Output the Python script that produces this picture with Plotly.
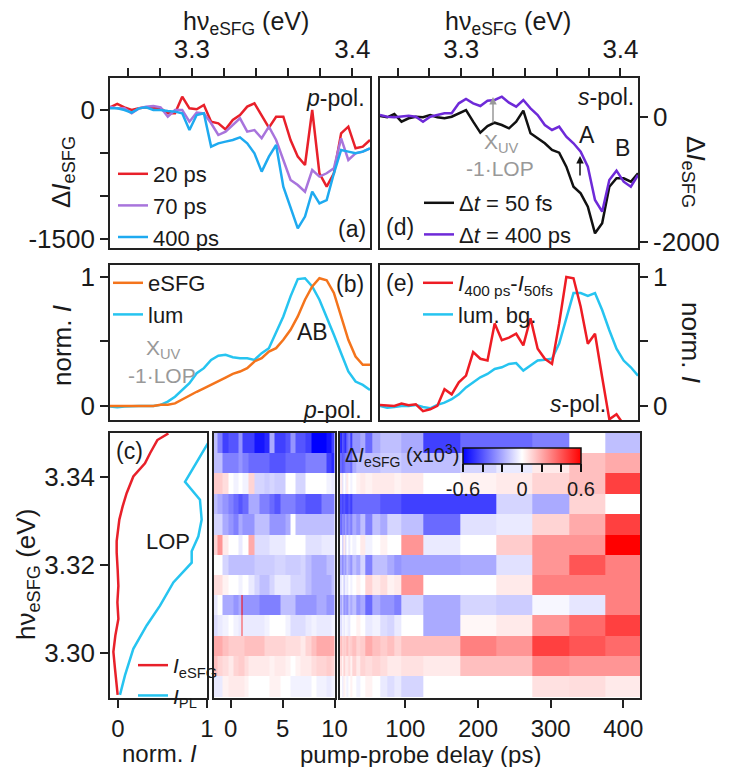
import numpy as np
import plotly.graph_objects as go

W, H = 732, 767
FONT = "Liberation Sans, Arial, sans-serif"

# ---------------- data ----------------
E_GRID = [3.2490, 3.2535, 3.2580, 3.2625, 3.2670, 3.2715, 3.2760, 3.2805, 3.2850, 3.2895,
          3.2940, 3.2985, 3.3030, 3.3075, 3.3120, 3.3165, 3.3210, 3.3255, 3.3300, 3.3345,
          3.3390, 3.3435, 3.3480, 3.3525, 3.3570, 3.3615, 3.3660, 3.3705, 3.3750, 3.3795,
          3.3840, 3.3885, 3.3930, 3.3975, 3.4020, 3.4065, 3.4110]

# (a) p-pol. Delta I_eSFG
A_20PS = [31, 70, 31, 0, 19, 31, 19, 19, -39, -39, 155, 19, 8, 58, -136, -155, -225, -116, -58, 39,
          78, -58, -205, -78, -78, -349, -543, -640, 0, -736, -891, -736, -271, -194, -446, -426, -349]
A_70PS = [39, 19, 19, -39, 19, 39, 47, 31, -78, 0, 0, -136, -31, -39, -155, -291, -252, -174, -97, -252,
          -233, -329, -194, -349, -581, -814, -872, -950, -698, -775, -736, -678, -329, -581, -504, -484, -446]
A_400PS = [19, 19, 0, -31, 19, 31, 0, 0, -12, -19, -39, -233, -58, -39, -426, -388, -368, -349, -318, -388,
           -504, -717, -543, -407, -891, -1124, -1376, -1240, -950, -1085, -1047, -736, -465, -484, -504, -484, -446]

# (b) p-pol. normalised spectra
B_ESFG = [0, 0, 0.005, 0.005, 0, 0, 0, 0.01, 0.01, 0.02, 0.05, 0.085, 0.11, 0.137, 0.163, 0.194, 0.22, 0.249,
          0.267, 0.293, 0.345, 0.37, 0.422, 0.448, 0.513, 0.59, 0.694, 0.824, 0.927, 0.99, 0.975, 0.876, 0.694,
          0.513, 0.383, 0.319, 0.319]
B_LUM = [-0.005, -0.01, -0.005, 0, 0, 0, 0, 0.008, 0.034, 0.072, 0.124, 0.176, 0.254, 0.293, 0.357, 0.389,
         0.396, 0.378, 0.37, 0.37, 0.357, 0.409, 0.448, 0.565, 0.694, 0.85, 0.984, 0.99, 0.927, 0.824, 0.694,
         0.552, 0.409, 0.267, 0.189, 0.163, 0.124]

# (d) s-pol. Delta I_eSFG
D_50FS = [16, -5, 48, -75, -21, 5, -5, 32, -5, -21, 5, 59, 112, -75, -251, -144, -91, -128, -181, -75,
          101, -261, -341, -421, -528, -571, -795, -1115, -1221, -1435, -1861, -1700, -1115, -981, -981, -1035, -901]
D_400PS = [32, 5, -5, 5, 21, 5, -75, 5, 32, 59, 59, 219, 288, 219, 176, 261, 272, 325, 229, 165,
           272, 139, 32, -128, -208, -155, -315, -421, -555, -795, -1328, -1515, -1008, -859, -1035, -1115, -928]

# (e) s-pol. normalised spectra
E_DIFF = [0.008, 0.005, 0, 0.018, 0.005, 0.013, -0.04, -0.026, 0, 0.13, 0.09, 0.183, 0.235, 0.418, 0.366,
          0.352, 0.64, 0.51, 0.53, 0.56, 0.47, 0.68, 0.444, 0.366, 0.326, 0.64, 1.0, 0.99, 0.77, 0.483, 0.56,
          0.222, -0.104, -0.065, -0.144, -0.25, -0.3]
E_LUMBG = [0, -0.013, -0.008, 0, 0, 0.008, -0.008, -0.018, 0.008, 0.026, 0.052, 0.09, 0.144, 0.183, 0.222,
           0.248, 0.287, 0.3, 0.326, 0.332, 0.274, 0.313, 0.352, 0.358, 0.366, 0.483, 0.69, 0.875, 0.875, 0.854,
           0.875, 0.744, 0.587, 0.444, 0.352, 0.3, 0.235]

# (c) vertical spectra
C_E_ESFG = [3.3499, 3.3484, 3.3454, 3.3431, 3.3401, 3.3363, 3.3333, 3.3303, 3.3254, 3.3228, 3.3190, 3.3152,
            3.3115, 3.3077, 3.3039, 3.3002, 3.2964, 3.2926, 3.2904]
C_ESFG = [0.566, 0.442, 0.36, 0.303, 0.172, 0.097, 0.052, 0.015, -0.015, -0.015, -0.004, 0.004, -0.007, 0.004,
          -0.03, -0.052, -0.034, -0.015, -0.004]
C_E_PL = [3.3499, 3.3472, 3.3389, 3.3348, 3.3303, 3.3265, 3.3231, 3.3205, 3.3160, 3.3107, 3.3062, 3.3009,
          3.2949, 3.2904]
C_PL = [1.08, 0.996, 0.753, 0.921, 0.94, 0.903, 0.828, 0.828, 0.622, 0.472, 0.322, 0.172, 0.079, 0.022]

# heat map: rows of photon energy (top -> bottom), values in units of 10 (x10^3 scale /100)
ENERGY_ROWS = [3.3477, 3.3431, 3.3385, 3.3338, 3.3292, 3.3246, 3.3200, 3.3154, 3.3108, 3.3062, 3.3015, 3.2969, 3.2923]
DELAY_EARLY = [-1.5, -1, -0.5, 0, 0.5, 1, 1.1, 1.2, 1.5, 2, 2.5, 3, 3.5, 4, 4.5, 5, 5.5, 6, 6.5, 7, 7.5, 8, 8.5, 9, 9.5, 10]
DELAY_LATE = [10, 12, 14, 16, 18, 20, 22, 25, 30, 35, 40, 50, 60, 70, 80, 90, 100, 150, 200, 250, 300, 350, 400]

EARLY_R01 = [-15, -30, -45, -40, -40, -25, -25, -45, -45, -45, -55, -55, -50, -20, -45, -45, -40, -25, -40, -40, -45, -60, -60, -60, -55, -45]
EARLY_R02 = [-15, -15, -30, -30, -30, -25, -25, -30, -30, -35, -35, -35, -35, -40, -40, -40, -35, -35, -35, -35, -30, -30, -30, -30, -45, -50]
EARLY_R03 = [12, 12, 8, 0, -3, 0, 0, -3, -3, 10, -10, -10, -12, -10, -12, -12, 0, 0, -10, -10, 0, 0, 0, 0, -3, -5]
EARLY_R04 = [-15, -20, -25, -30, -35, -40, -40, -35, -35, -20, -20, -30, -30, -35, -40, -30, -30, -30, -35, -35, -40, -40, -40, -30, -30, -30]
EARLY_R05 = [-10, -10, -20, -25, -30, -20, -20, -25, -25, -25, -15, -15, -15, -25, -25, -25, -20, 0, -15, -15, -15, -15, -15, -15, -15, -15]
EARLY_R06 = [10, 25, 5, 0, 0, -5, -5, 0, 0, 20, -8, -8, -8, -5, -5, -5, 0, 0, 0, 0, -7, -7, -7, -5, -5, -5]
EARLY_R07 = [0, 0, -10, -15, -15, -15, -15, -15, -15, -15, -12, -12, -12, -12, -10, -10, -12, -12, -12, -10, -15, -20, -20, -20, -15, -15]
EARLY_R08 = [8, 8, 3, 0, 0, -3, -3, 0, 0, -5, -10, -15, -15, -10, -5, -5, -5, -10, -10, -10, -15, -20, -20, -20, -20, -15]
EARLY_R09 = [-5, 0, -20, -20, -25, -20, 60, -25, -25, -25, -25, -30, -30, -30, -30, -15, -15, -15, -25, -25, -25, -25, -20, -20, -25, -25]
EARLY_R10 = [-8, -5, -3, 0, -3, -5, 45, -5, -5, -5, -5, -5, -3, 0, 0, 0, -3, -8, -8, -8, -5, -3, -5, -5, -5, -3]
EARLY_R11 = [20, 20, 15, 12, 12, 12, 12, 12, 15, 15, 15, 15, 10, 10, 10, 10, 8, 8, 8, 5, 10, 15, 20, 20, 20, 20]
EARLY_R12 = [15, 10, 8, 5, 10, 12, 12, 12, 8, 5, 5, 5, 5, 3, 5, 5, 3, 0, 3, 5, 5, 8, 10, 10, 12, 10]
EARLY_R13 = [-5, -5, 3, 5, 5, 5, 5, 5, 3, 0, 0, 0, 0, 3, 3, 0, 0, -3, -3, -3, -3, 0, -3, -3, -5, -3]

LATE_R01 = [-45, -50, -35, -45, -50, -35, -30, -45, -25, -25, -20, -35, -20, -15, -15, -15, -20, -45, -35, -35, -30, 0, -15]
LATE_R02 = [-35, -35, -40, -35, -30, -30, -30, -35, -20, -15, -15, -15, -15, -12, -12, -12, -15, -15, -10, -5, 5, 15, 20]
LATE_R03 = [-5, 5, -8, 0, -5, 5, 0, -3, 0, 3, 5, 3, 5, 5, 5, 3, 5, 0, 3, 5, 10, 15, 45]
LATE_R04 = [-45, -40, -45, -40, -45, -45, -40, -45, -35, -35, -35, -35, -35, -40, -40, -40, -45, -45, -45, -10, -20, 10, 0]
LATE_R05 = [-30, -35, -25, -30, -20, -30, -25, -30, -20, -25, -15, -30, -15, -20, -10, -10, -15, -35, -7, -5, 10, 20, 45]
LATE_R06 = [-5, 0, -15, 5, -10, 0, -5, 0, -3, 0, 5, -3, 0, 3, 0, 0, 25, -5, 0, 12, 25, 25, 60]
LATE_R07 = [-25, -20, -30, -20, -25, -15, -20, -25, -15, -20, -10, -30, -15, -15, -20, -25, -22, -22, -20, -7, 25, 40, 30]
LATE_R08 = [-10, -5, 0, -10, 0, -5, 0, -3, 0, 3, 0, 10, 5, 8, 3, 5, 25, 0, 0, 5, 30, 30, 30]
LATE_R09 = [-15, -20, -10, -25, -20, -25, -15, -20, -15, -25, -20, -35, -20, -25, -25, -30, -10, -20, -10, -12, -2, -6, 30]
LATE_R10 = [-5, -8, 0, -5, 0, -3, -5, 0, 0, 3, 0, -5, -3, -8, -10, -5, 0, -20, 2, 5, 25, 35, 45]
LATE_R11 = [10, 15, 8, 12, 10, 15, 10, 12, 15, 10, 12, 20, 15, 12, 15, 10, 15, 15, 30, 25, 45, 40, 35]
LATE_R12 = [5, 8, 0, 10, 3, 5, 8, 3, 10, 5, 10, 8, 10, 8, 5, 5, 7, 5, 15, 15, 28, 25, 25]
LATE_R13 = [-3, 0, -5, 3, 0, -3, 0, 3, 0, -3, 0, 3, 0, -5, -8, -5, -10, 0, 0, 0, 7, 8, 5]

EARLY_ROWS = [EARLY_R01, EARLY_R02, EARLY_R03, EARLY_R04, EARLY_R05, EARLY_R06, EARLY_R07,
              EARLY_R08, EARLY_R09, EARLY_R10, EARLY_R11, EARLY_R12, EARLY_R13]
LATE_ROWS = [LATE_R01, LATE_R02, LATE_R03, LATE_R04, LATE_R05, LATE_R06, LATE_R07,
             LATE_R08, LATE_R09, LATE_R10, LATE_R11, LATE_R12, LATE_R13]

E_TICKS = [3.26, 3.28, 3.30, 3.32, 3.34, 3.36, 3.38, 3.40]
E_TICKTEXT = ['', '', '3.3', '', '', '', '', '3.4']

# ---------------- helpers ----------------
def fx(p):
    return p / W

def fy(p):
    return 1 - p / H

RED = '#e8202a'
PURPLE_A = '#a874dc'
BLUE_A = '#1eaaf0'
ORANGE = '#f4741c'
CYAN = '#26c4f0'
VIOLET = '#6e2ad8'
GRAY = '#999999'
INK = '#1a1a1a'

fig = go.Figure()

def line(x, y, name, color, xa, ya, leg, rank):
    fig.add_trace(go.Scatter(x=x, y=y, mode='lines', name=name, line=dict(color=color, width=2.5),
                             xaxis=xa, yaxis=ya, legend=leg, legendrank=rank))

# (a)
line(E_GRID, A_20PS, '20 ps', RED, 'x', 'y', 'legend', 1)
line(E_GRID, A_70PS, '70 ps', PURPLE_A, 'x', 'y', 'legend', 2)
line(E_GRID, A_400PS, '400 ps', BLUE_A, 'x', 'y', 'legend', 3)
# (d)
line(E_GRID, D_50FS, 'Δ<i>t</i> = 50 fs', '#111111', 'x2', 'y2', 'legend4', 1)
line(E_GRID, D_400PS, 'Δ<i>t</i> = 400 ps', VIOLET, 'x2', 'y2', 'legend4', 2)
# (b)
line(E_GRID, B_LUM, 'lum', CYAN, 'x3', 'y3', 'legend2', 2)
line(E_GRID, B_ESFG, 'eSFG', ORANGE, 'x3', 'y3', 'legend2', 1)
# (e)
line(E_GRID, E_LUMBG, 'lum. bg.', CYAN, 'x4', 'y4', 'legend5', 2)
line(E_GRID, E_DIFF, '<i>I</i><sub>400 ps</sub>-<i>I</i><sub>50fs</sub>', '#ee1c24', 'x4', 'y4', 'legend5', 1)
# (c)
line(C_ESFG, C_E_ESFG, '<i>I</i><sub>eSFG</sub>', RED, 'x5', 'y5', 'legend3', 1)
line(C_PL, C_E_PL, '<i>I</i><sub>PL</sub>', CYAN, 'x5', 'y5', 'legend3', 2)

# heat maps
fig.add_trace(go.Heatmap(x=DELAY_EARLY, y=ENERGY_ROWS, z=np.array(EARLY_ROWS) / 100.0,
                         coloraxis='coloraxis', xaxis='x6', yaxis='y6', showlegend=False))
fig.add_trace(go.Heatmap(x=DELAY_LATE, y=ENERGY_ROWS, z=np.array(LATE_ROWS) / 100.0,
                         coloraxis='coloraxis', xaxis='x7', yaxis='y7', showlegend=False))

# ---------------- axes ----------------
BASE = dict(showline=True, linecolor='#222222', linewidth=1.8, mirror=True, showgrid=False,
            zeroline=False, ticks='outside', ticklen=8, tickwidth=1.5, tickcolor='#222222',
            automargin=False, tickfont=dict(size=26, family=FONT, color=INK))
NOTICK = dict(BASE, ticks='', showticklabels=False)
BOTTOM_FONT = dict(size=24, family=FONT, color=INK)

def ax(base, **kw):
    d = dict(base)
    d.update(kw)
    return d

ERANGE = [3.249, 3.411]
layout_axes = dict(
    xaxis=ax(BASE, domain=[fx(110), fx(370)], anchor='y', side='top', range=ERANGE,
             tickvals=E_TICKS, ticktext=E_TICKTEXT),
    yaxis=ax(BASE, domain=[fy(248), fy(78)], anchor='x', range=[-1605, 372],
             tickvals=[0, -500, -1000, -1500], ticktext=['0', '', '', '-1500']),
    xaxis2=ax(BASE, domain=[fx(380), fx(638)], anchor='y2', side='top', range=ERANGE,
              tickvals=E_TICKS, ticktext=E_TICKTEXT),
    yaxis2=ax(BASE, domain=[fy(248), fy(78)], anchor='x2', side='right', range=[-2096, 624],
              tickvals=[0, -2000], ticktext=['0', '-2000']),
    xaxis3=ax(NOTICK, domain=[fx(110), fx(370)], anchor='y3', range=ERANGE),
    yaxis3=ax(BASE, domain=[fy(420), fy(265)], anchor='x3', range=[-0.109, 1.093],
              tickvals=[0, 0.5, 1], ticktext=['0', '', '1']),
    xaxis4=ax(NOTICK, domain=[fx(380), fx(638)], anchor='y4', range=ERANGE),
    yaxis4=ax(BASE, domain=[fy(420), fy(265)], anchor='x4', side='right', range=[-0.109, 1.093],
              tickvals=[0, 0.5, 1], ticktext=['0', '', '1']),
    xaxis5=ax(BASE, domain=[fx(110), fx(207)], anchor='y5', range=[-0.09, 1.0],
              tickvals=[0, 1], ticktext=['0', '1'], tickfont=BOTTOM_FONT),
    yaxis5=ax(BASE, domain=[fy(698), fy(433)], anchor='x5', range=[3.2897, 3.3500],
              tickvals=[3.30, 3.32, 3.34], ticktext=['3.30', '3.32', '3.34']),
    xaxis6=ax(BASE, domain=[fx(214), fx(334.5)], anchor='y6', range=[-1.6, 10],
              tickvals=[0, 5, 10], ticktext=['0', '5', '10'], tickfont=BOTTOM_FONT),
    yaxis6=ax(NOTICK, domain=[fy(698), fy(433)], anchor='x6', range=[3.2897, 3.3500]),
    xaxis7=ax(BASE, domain=[fx(340), fx(640)], anchor='y7', range=[10, 423],
              tickvals=[100, 200, 300, 400], ticktext=['100', '200', '300', '400'], tickfont=BOTTOM_FONT),
    yaxis7=ax(NOTICK, domain=[fy(698), fy(433)], anchor='x7', range=[3.2897, 3.3500]),
)

# ---------------- legends ----------------
def leg(xp, yp, size=22):
    return dict(x=fx(xp), y=fy(yp), xanchor='left', yanchor='top', bgcolor='rgba(0,0,0,0)',
                font=dict(size=size, family=FONT, color=INK), itemwidth=30,
                tracegroupgap=0, traceorder='normal', borderwidth=0)

# ---------------- annotations ----------------
ann = []

def txt(t, xp, yp, size=23, color=INK, xanchor='center', angle=0):
    ann.append(dict(text=t, x=fx(xp), y=fy(yp), xref='paper', yref='paper', showarrow=False,
                    xanchor=xanchor, yanchor='middle', textangle=angle,
                    font=dict(size=size, family=FONT, color=color)))

def arrow(xp, yp, tail_dy, color):
    ann.append(dict(text='', x=fx(xp), y=fy(yp), xref='paper', yref='paper', showarrow=True,
                    ax=0, ay=tail_dy, arrowhead=2, arrowsize=1, arrowwidth=1.5, arrowcolor=color))

HNU = 'hν<sub>eSFG</sub> (eV)'
DI = 'Δ<i>I</i><sub>eSFG</sub>'
NI = 'norm. <i>I</i>'
txt(HNU, 246, 23, 25)
txt(HNU, 508, 23, 25)
txt(DI, 62, 172, 26, angle=-90)
txt(DI, 695, 172, 26, angle=90)
txt(NI, 62, 346, 26, angle=-90)
txt(NI, 691, 342, 26, angle=90)
txt(HNU, 27, 575, 26, angle=-90)
txt(NI, 159, 753, 24)
txt('pump-probe delay (ps)', 420, 754, 24)

txt('<i>p</i>-pol.', 367, 98, 23, xanchor='right')
txt('(a)', 368, 229, 23, xanchor='right')
txt('<i>s</i>-pol.', 636, 97, 23, xanchor='right')
txt('(d)', 384, 227, 23, xanchor='left')
txt('X<sub>UV</sub>', 501, 143, 21, GRAY)
txt('-1·LOP', 500, 168, 21, GRAY)
txt('A', 587, 135, 23)
txt('B', 622, 148, 23)
arrow(493, 97, 27, GRAY)
arrow(580, 156, 21, '#111111')

txt('(b)', 366, 284, 23, xanchor='right')
txt('AB', 312, 332, 23)
txt('X<sub>UV</sub>', 163, 349, 21, GRAY)
txt('-1·LOP', 162, 375, 21, GRAY)
txt('<i>p</i>-pol.', 364, 410, 23, xanchor='right')

txt('(e)', 384, 283, 23, xanchor='left')
txt('<i>s</i>-pol.', 608, 404, 23, xanchor='right')

txt('(c)', 114, 451, 23, xanchor='left')
txt('LOP', 168, 541, 22)
txt('Δ<i>I</i><sub>eSFG</sub> (x10<sup>3</sup>)', 461, 456, 20, xanchor='right')

fig.update_layout(
    width=W, height=H, margin=dict(l=0, r=0, t=0, b=0),
    paper_bgcolor='white', plot_bgcolor='white',
    font=dict(family=FONT, color=INK),
    showlegend=True,
    legend=leg(113, 153),
    legend2=leg(108, 262),
    legend3=leg(133, 645, 21),
    legend4=leg(419, 182),
    legend5=leg(418, 262),
    coloraxis=dict(cmin=-0.6, cmax=0.6,
                   colorscale=[[0, 'rgb(0,0,255)'], [0.5, 'rgb(255,255,255)'], [1, 'rgb(255,0,0)']],
                   colorbar=dict(orientation='h', x=fx(522), xanchor='center', y=fy(448), yanchor='top',
                                 len=118, lenmode='pixels', thickness=16, thicknessmode='pixels',
                                 outlinewidth=1.5, outlinecolor='#111111', xpad=0, ypad=0,
                                 ticks='outside', ticklen=8, tickwidth=1.5, tickcolor='#111111',
                                 tickvals=[-0.6, -0.4, -0.2, 0, 0.2, 0.4, 0.6],
                                 ticktext=['-0.6', '', '', '0', '', '', '0.6'],
                                 tickfont=dict(size=20, family=FONT, color=INK))),
    annotations=ann,
    **layout_axes,
)

fig.write_html("out.html")
